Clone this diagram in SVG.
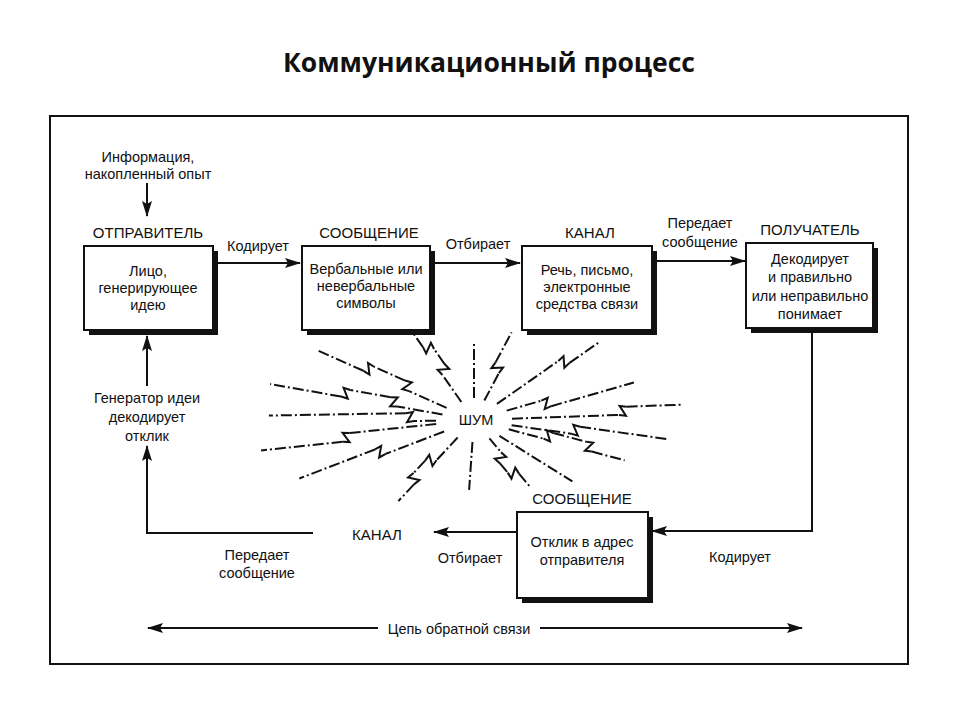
<svg xmlns="http://www.w3.org/2000/svg" width="960" height="720" viewBox="0 0 960 720">
<style>
text{font-family:"Liberation Sans",Arial,sans-serif;fill:#111;text-anchor:middle}
.t{font-size:14.5px}
.cap{font-size:15px}
.title{font-family:"Open Sans","Liberation Sans",sans-serif;font-size:26.5px;font-weight:bold}
.box{fill:#fff;stroke:#111;stroke-width:2}
.sh{fill:#111}
.ln{fill:none;stroke:#111;stroke-width:2}
.ray{fill:none;stroke:#111;stroke-width:2;stroke-dasharray:11 3 2 3}
.jag{fill:none;stroke:#111;stroke-width:2;stroke-linejoin:miter}
</style>
<defs>
<marker id="ah" markerUnits="userSpaceOnUse" markerWidth="16" markerHeight="10" refX="15" refY="5" orient="auto-start-reverse">
<path d="M0,0 L16,5 L0,10 L3,5 z" fill="#111"/>
</marker>
</defs>
<rect width="960" height="720" fill="#fff"/>
<text class="title" x="489" y="72">Коммуникационный процесс</text>
<rect x="50" y="116" width="858" height="548" fill="none" stroke="#111" stroke-width="2"/>

<g id="input">
<text class="t" x="148" y="162">Информация,</text>
<text class="t" x="148" y="179">накопленный опыт</text>
</g>

<g id="sender">
<text class="cap" x="148" y="238">ОТПРАВИТЕЛЬ</text>
<rect class="sh" x="89" y="251" width="129" height="84"/>
<rect class="box" x="84" y="246" width="129" height="84"/>
<text class="t" x="148" y="276">Лицо,</text>
<text class="t" x="148" y="293">генерирующее</text>
<text class="t" x="148" y="310">идею</text>
</g>

<g id="message">
<text class="cap" x="369" y="238">СООБЩЕНИЕ</text>
<rect class="sh" x="307" y="251" width="128" height="84"/>
<rect class="box" x="302" y="246" width="128" height="84"/>
<text class="t" x="366" y="274">Вербальные или</text>
<text class="t" x="366" y="291">невербальные</text>
<text class="t" x="366" y="308">символы</text>
</g>

<g id="channel">
<text class="cap" x="590" y="238">КАНАЛ</text>
<rect class="sh" x="527" y="251" width="130" height="84"/>
<rect class="box" x="522" y="246" width="130" height="84"/>
<text class="t" x="587" y="275">Речь, письмо,</text>
<text class="t" x="587" y="292">электронные</text>
<text class="t" x="587" y="309">средства связи</text>
</g>

<g id="receiver">
<text class="cap" x="810" y="235">ПОЛУЧАТЕЛЬ</text>
<rect class="sh" x="751" y="248" width="127" height="85"/>
<rect class="box" x="746" y="243" width="127" height="85"/>
<text class="t" x="810" y="264">Декодирует</text>
<text class="t" x="810" y="282">и правильно</text>
<text class="t" x="810" y="301">или неправильно</text>
<text class="t" x="810" y="319">понимает</text>
</g>

<g id="feedback">
<text class="cap" x="582" y="504">СООБЩЕНИЕ</text>
<rect class="sh" x="522" y="517" width="131" height="86"/>
<rect class="box" x="517" y="512" width="131" height="86"/>
<text class="t" x="582" y="547">Отклик в адрес</text>
<text class="t" x="582" y="565">отправителя</text>
</g>

<g id="noise">
<text class="t" x="476" y="425">ШУМ</text>
<g transform="translate(474,420) rotate(204)"><path class="ray" d="M30 0 L71 0 M79 8 L113 8 M121 0 L172 0"/><path class="jag" d="M71 0 L78 -1 L72 9 L79 8 M113 8 L120 9 L114 -1 L121 0"/></g>
<g transform="translate(474,420) rotate(190)"><path class="ray" d="M32 0 L78 0 M86 8 L127 8 M135 0 L207 0"/><path class="jag" d="M78 0 L85 -1 L79 9 L86 8 M127 8 L134 9 L128 -1 L135 0"/></g>
<g transform="translate(474,420) rotate(179)"><path class="ray" d="M38 0 L60 0 M68 8 L205 8"/><path class="jag" d="M60 0 L67 -1 L61 9 L68 8"/></g>
<g transform="translate(474,420) rotate(174)"><path class="ray" d="M38 0 L125 0 M133 -8 L215 -8"/><path class="jag" d="M125 0 L132 1 L126 -9 L133 -8"/></g>
<g transform="translate(474,420) rotate(159)"><path class="ray" d="M32 0 L95 0 M103 8 L184 8"/><path class="jag" d="M95 0 L102 -1 L96 9 L103 8"/></g>
<g transform="translate(474,420) rotate(133)"><path class="ray" d="M24 0 L55 0 M63 8 L80 8 M88 0 L111 0"/><path class="jag" d="M55 0 L62 -1 L56 9 L63 8 M80 8 L87 9 L81 -1 L88 0"/></g>
<g transform="translate(474,420) rotate(94)"><path class="ray" d="M22 0 L70 0"/></g>
<g transform="translate(474,420) rotate(50)"><path class="ray" d="M24 0 L42 0 M50 8 L62 8 M70 0 L88 0"/><path class="jag" d="M42 0 L49 -1 L43 9 L50 8 M62 8 L69 9 L63 -1 L70 0"/></g>
<g transform="translate(474,420) rotate(32)"><path class="ray" d="M30 0 L116 0"/></g>
<g transform="translate(474,420) rotate(15)"><path class="ray" d="M36 0 L72 0 M80 -8 L114 -8 M122 0 L156 0"/><path class="jag" d="M72 0 L79 1 L73 -9 L80 -8 M114 -8 L121 -9 L115 1 L122 0"/></g>
<g transform="translate(474,420) rotate(8)"><path class="ray" d="M38 0 L98 0 M106 -8 L193 -8"/><path class="jag" d="M98 0 L105 1 L99 -9 L106 -8"/></g>
<g transform="translate(474,420) rotate(-2)"><path class="ray" d="M38 0 L145 0 M153 -8 L208 -8"/><path class="jag" d="M145 0 L152 1 L146 -9 L153 -8"/></g>
<g transform="translate(474,420) rotate(-16)"><path class="ray" d="M34 0 L70 0 M78 8 L164 8"/><path class="jag" d="M70 0 L77 -1 L71 9 L78 8"/></g>
<g transform="translate(474,420) rotate(-35)"><path class="ray" d="M28 0 L103 0 M111 8 L147 8"/><path class="jag" d="M103 0 L110 -1 L104 9 L111 8"/></g>
<g transform="translate(474,420) rotate(-62)"><path class="ray" d="M22 0 L53 0 M61 -8 L95 -8"/><path class="jag" d="M53 0 L60 1 L54 -9 L61 -8"/></g>
<g transform="translate(474,420) rotate(-90)"><path class="ray" d="M22 0 L77 0"/></g>
<g transform="translate(474,420) rotate(235)"><path class="ray" d="M22 0 L55 0 M63 8 L81 8 M89 0 L107 0"/><path class="jag" d="M55 0 L62 -1 L56 9 L63 8 M81 8 L88 9 L82 -1 L89 0"/></g>
</g>

<g id="connectors">
<path class="ln" d="M147 183 L147 216" marker-end="url(#ah)"/>
<path class="ln" d="M216 263 L300 263" marker-end="url(#ah)"/>
<path class="ln" d="M434 263 L520 263" marker-end="url(#ah)"/>
<path class="ln" d="M657 261 L745 261" marker-end="url(#ah)"/>
<path class="ln" d="M812 333 L812 531 L652 531" marker-end="url(#ah)"/>
<path class="ln" d="M517 532 L434 532" marker-end="url(#ah)"/>
<path class="ln" d="M313 533 L147 533 L147 446" marker-end="url(#ah)"/>
<path class="ln" d="M147 386 L147 336" marker-end="url(#ah)"/>
<path class="ln" d="M148 628 L378 628 M540 628 L802 628" marker-start="url(#ah)" marker-end="url(#ah)"/>
<text class="t" x="258" y="251">Кодирует</text>
<text class="t" x="478" y="249">Отбирает</text>
<text class="t" x="700" y="228">Передает</text>
<text class="t" x="700" y="247">сообщение</text>
<text class="t" x="740" y="562">Кодирует</text>
<text class="t" x="470" y="563">Отбирает</text>
<text class="cap" x="377" y="540">КАНАЛ</text>
<text class="t" x="257" y="560">Передает</text>
<text class="t" x="257" y="578">сообщение</text>
<text class="t" x="147" y="403">Генератор идеи</text>
<text class="t" x="147" y="422">декодирует</text>
<text class="t" x="147" y="441">отклик</text>
<text class="t" x="459" y="634">Цепь обратной связи</text>
</g>
</svg>
